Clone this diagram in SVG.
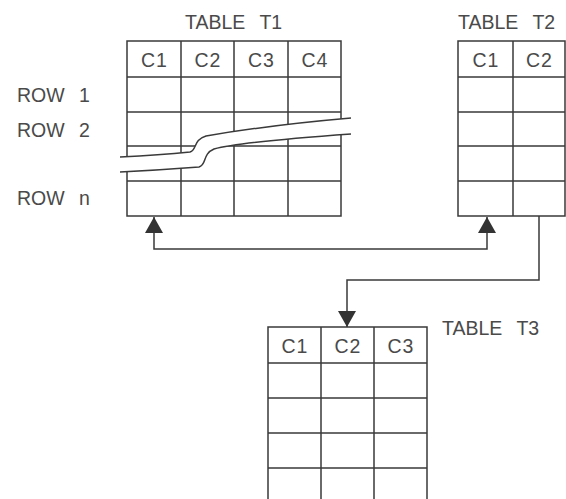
<svg xmlns="http://www.w3.org/2000/svg" width="566" height="499" viewBox="0 0 566 499">
  <style>
    .grid { fill: none; stroke: #3a3a3a; stroke-width: 1.5; }
    .lbl { font-family: "Liberation Sans", Arial, sans-serif; font-size: 19.5px; fill: #4a4a4a; word-spacing: 9px; }
    .hdr { font-family: "Liberation Sans", Arial, sans-serif; font-size: 19.5px; fill: #4a4a4a; text-anchor: middle; letter-spacing: 1px; }
    .wire { fill: none; stroke: #3a3a3a; stroke-width: 1.5; }
    .gap { fill: #fff; stroke: none; }
    .gapline { fill: none; stroke: #3a3a3a; stroke-width: 1.5; }
  </style>
  <defs>
    <marker id="arrow" viewBox="0 0 16 18" refX="16" refY="9" markerWidth="16" markerHeight="18" markerUnits="userSpaceOnUse" orient="auto-start-reverse">
      <path d="M0,0 L16,9 L0,18 Z" fill="#333"/>
    </marker>
  </defs>
  <rect width="566" height="499" fill="#fff"/>

  <!-- Table T1 with row labels and a break band -->
  <g id="table-t1">
    <text class="lbl" x="185" y="29">TABLE T1</text>
    <rect class="grid" x="127" y="41" width="214" height="175"/>
    <path class="grid" d="M181,41 V216 M234,41 V216 M288,41 V216 M127,77 H341 M127,112 H341 M127,146 H341 M127,181 H341"/>
    <text class="hdr" x="154.5" y="67">C1</text>
    <text class="hdr" x="208" y="67">C2</text>
    <text class="hdr" x="261.5" y="67">C3</text>
    <text class="hdr" x="315" y="67">C4</text>
    <text class="lbl" x="17" y="102">ROW 1</text>
    <text class="lbl" x="17" y="137">ROW 2</text>
    <text class="lbl" x="17" y="205">ROW n</text>
    <path class="gap" d="M120,157 Q160,155 190,152 C197,150 193,140 206,136 Q270,125 351,118 L351,134 Q240,142 214,149 C202,154 207,165 199,167 Q160,170 120,172 Z"/>
    <path class="gapline" d="M120,157 Q160,155 190,152 C197,150 193,140 206,136 Q270,125 351,118"/>
    <path class="gapline" d="M120,172 Q160,170 199,167 C207,165 202,154 214,149 Q240,142 351,134"/>
  </g>

  <!-- Table T2 -->
  <g id="table-t2">
    <text class="lbl" x="458" y="29">TABLE T2</text>
    <path class="grid" d="M458,216 V41 H565 V216 Z M513,41 V216 M458,77 H565 M458,112 H565 M458,146 H565 M458,181 H565"/>
    <text class="hdr" x="486" y="67">C1</text>
    <text class="hdr" x="539.5" y="67">C2</text>
  </g>

  <!-- Table T3 -->
  <g id="table-t3">
    <text class="lbl" x="442" y="335">TABLE T3</text>
    <path class="grid" d="M268,505 V327 H427 V505 M321,327 V505 M374,327 V505 M268,363 H427 M268,398 H427 M268,433 H427 M268,468 H427"/>
    <text class="hdr" x="295" y="353">C1</text>
    <text class="hdr" x="348" y="353">C2</text>
    <text class="hdr" x="401" y="353">C3</text>
  </g>

  <!-- Connectors -->
  <g id="connectors">
    <path class="wire" d="M154,217 V249 H487 V217" marker-start="url(#arrow)" marker-end="url(#arrow)"/>
    <path class="wire" d="M539,216 V280 H347 V327" marker-end="url(#arrow)"/>
  </g>
</svg>
